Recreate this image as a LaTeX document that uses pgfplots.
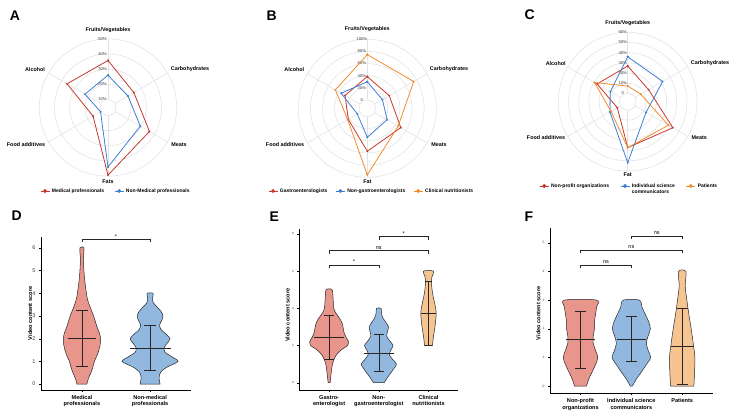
\documentclass[border=0pt]{standalone}
\usepackage{pgfplots}
\usepackage{pgfplotstable}
\pgfplotsset{compat=1.18}
\usepackage{fontspec}
\setmainfont{Liberation Sans}
\definecolor{rred}{HTML}{C8372D}
\definecolor{rblue}{HTML}{3D7FD3}
\definecolor{rorange}{HTML}{F08B2C}
\definecolor{vred}{HTML}{E8958C}
\definecolor{vblue}{HTML}{92B8E0}
\definecolor{vorange}{HTML}{F6C491}
\definecolor{gridc}{HTML}{E3E3E3}
\newcommand\catf{\fontsize{5.4}{6}\selectfont\bfseries}
\newcommand\legf{\fontsize{5}{6}\selectfont\bfseries}
\newcommand\ringf{\fontsize{4.2}{5}\selectfont}
\newcommand\letf{\fontsize{14}{16}\selectfont\bfseries}
\newcommand\xlf{\fontsize{5.6}{6.2}\selectfont\bfseries}
\newcommand\sigf{\fontsize{5.5}{6}\selectfont}

% ---------------- radar data ----------------
\pgfplotstableread{
a med non
90 35.7 26.0
30 24.4 19.9
-30 36.3 29.3
-90 49.3 44.0
210 16.1 10.4
150 35.9 22.3
90 35.7 26.0
}\radA
\pgfplotstableread{
a ga non cl
90 38.5 30 74.7
30 28 15 74.5
-30 50 24 45
-90 57 34 96
210 22.5 5.2 23.6
150 28.6 36 47
90 38.5 30 74.7
}\radB
\pgfplotstableread{
a np isc pat
90 26.9 36 7.2
30 15.5 31.5 6.6
-30 43 12.7 38
-90 37 51.8 37
210 3.6 12 10.8
150 26.6 11.5 29.5
90 26.9 36 7.2
}\radC

% ---------------- violin outlines (y, half-width) ----------------
\pgfplotstableread{
y w
0 0.073
0.25 0.095
0.5 0.132
0.75 0.161
1 0.183
1.25 0.220
1.5 0.249
1.75 0.268
2 0.274
2.25 0.257
2.5 0.224
2.75 0.198
3 0.172
3.25 0.139
3.5 0.107
3.75 0.081
4 0.066
4.5 0.044
5 0.029
5.5 0.022
6 0.029
6 -0.029
5.5 -0.022
5 -0.029
4.5 -0.044
4 -0.066
3.75 -0.081
3.5 -0.107
3.25 -0.139
3 -0.172
2.75 -0.198
2.5 -0.224
2.25 -0.257
2 -0.274
1.75 -0.268
1.5 -0.249
1.25 -0.220
1 -0.183
0.75 -0.161
0.5 -0.132
0.25 -0.095
0 -0.073
}\vDa
\pgfplotstableread{
y w
0 0.147
0.3 0.132
0.55 0.161
0.75 0.25
1 0.41
1.2 0.32
1.4 0.22
1.6 0.205
1.8 0.25
2 0.293
2.2 0.235
2.4 0.161
2.6 0.139
2.8 0.169
3 0.19
3.2 0.161
3.4 0.103
3.6 0.044
3.8 0.037
4 0.044
4 -0.044
3.8 -0.037
3.6 -0.044
3.4 -0.103
3.2 -0.161
3 -0.19
2.8 -0.169
2.6 -0.139
2.4 -0.161
2.2 -0.235
2 -0.293
1.8 -0.25
1.6 -0.205
1.4 -0.22
1.2 -0.32
1 -0.41
0.75 -0.25
0.55 -0.161
0.3 -0.132
0 -0.147
}\vDb
\pgfplotstableread{
y w
0 0.02
0.5 0.04
1 0.067
1.25 0.1
1.5 0.147
1.75 0.235
2 0.37
2.2 0.39
2.4 0.35
2.7 0.3
3 0.28
3.25 0.255
3.5 0.2
3.75 0.134
4 0.094
4.5 0.08
5 0.06
5 -0.06
4.5 -0.08
4 -0.094
3.75 -0.134
3.5 -0.2
3.25 -0.255
3 -0.28
2.7 -0.3
2.4 -0.35
2.2 -0.39
2 -0.37
1.75 -0.235
1.5 -0.147
1.25 -0.1
1 -0.067
0.5 -0.04
0 -0.02
}\vEa
\pgfplotstableread{
y w
0 0.107
0.25 0.167
0.5 0.235
0.75 0.30
1 0.356
1.25 0.28
1.5 0.215
1.75 0.24
2 0.288
2.25 0.22
2.5 0.16
2.75 0.175
3 0.195
3.25 0.14
3.5 0.08
3.75 0.054
4 0.046
4 -0.046
3.75 -0.054
3.5 -0.08
3.25 -0.14
3 -0.195
2.75 -0.175
2.5 -0.16
2.25 -0.22
2 -0.288
1.75 -0.24
1.5 -0.215
1.25 -0.28
1 -0.356
0.75 -0.30
0.5 -0.235
0.25 -0.167
0 -0.107
}\vEb
\pgfplotstableread{
y w
2 0.08
2.5 0.1
3 0.13
3.5 0.15
3.8 0.155
4.2 0.13
4.6 0.097
5 0.072
5.4 0.06
5.7 0.07
6 0.1
6 -0.1
5.7 -0.07
5.4 -0.06
5 -0.072
4.6 -0.097
4.2 -0.13
3.8 -0.155
3.5 -0.15
3 -0.13
2.5 -0.1
2 -0.08
}\vEc
\pgfplotstableread{
y w
0 0.118
0.25 0.163
0.5 0.23
0.75 0.295
1 0.34
1.25 0.295
1.5 0.25
1.75 0.25
2 0.275
2.25 0.275
2.5 0.295
2.75 0.315
3 0.315
3 -0.315
2.75 -0.315
2.5 -0.295
2.25 -0.275
2 -0.275
1.75 -0.25
1.5 -0.25
1.25 -0.295
1 -0.34
0.75 -0.295
0.5 -0.23
0.25 -0.163
0 -0.118
}\vFa
\pgfplotstableread{
y w
0 0.02
0.25 0.1
0.5 0.2
0.75 0.295
1 0.38
1.25 0.33
1.5 0.295
1.75 0.33
2 0.374
2.25 0.34
2.5 0.275
2.75 0.21
3 0.157
3 -0.157
2.75 -0.21
2.5 -0.275
2.25 -0.34
2 -0.374
1.75 -0.33
1.5 -0.295
1.25 -0.33
1 -0.38
0.75 -0.295
0.5 -0.2
0.25 -0.1
0 -0.02
}\vFb
\pgfplotstableread{
y w
0 0.23
0.5 0.243
1 0.25
1.5 0.216
2 0.177
2.5 0.131
3 0.092
3.5 0.059
4 0.072
4 -0.072
3.5 -0.059
3 -0.092
2.5 -0.131
2 -0.177
1.5 -0.216
1 -0.25
0.5 -0.243
0 -0.23
}\vFc

\tikzset{brk/.style={black!85, line width=0.5pt}}
\pgfplotsset{
 radar/.style={scale only axis, hide axis, clip=false, anchor=center,
   xmin=-105,xmax=105,ymin=-95,ymax=95,width=210pt,height=190pt,
   legend image code/.code={\draw[##1,line width=0.8pt] (0pt,0pt) -- (9pt,0pt); \fill[##1] (4.5pt,0pt) circle[radius=1.5pt];},
   legend style={draw=none, fill=none, font=\legf, legend columns=-1, inner sep=0pt},
 },
 rline/.style={line width=0.8pt, mark=*, mark size=0.5pt},
 violin/.style={scale only axis, clip=false, anchor=south west,
   axis x line*=bottom, axis y line*=left, axis line style={-, line width=0.5pt, black},
   xmin=0.4, tick align=outside, major tick length=2pt, tick style={black, line width=0.4pt},
   xticklabel style={font=\xlf, align=center, text=black},
   yticklabel style={text=black!75},
   /pgf/number format/assume math mode=true,
   ylabel={Video content score},
 },
 vshape/.style={draw=black!85, line width=0.5pt, smooth, tension=0.5},
 ebar/.style={black!85, line width=0.6pt},
}

\begin{document}
\begin{tikzpicture}
\useasboundingbox (0pt,0pt) rectangle (733pt,411pt);
\node[font=\letf] at (15pt,395.7pt) {A};
\node[font=\letf] at (271.7pt,395.7pt) {B};
\node[font=\letf] at (529.7pt,396pt) {C};
\node[font=\letf] at (16.7pt,195pt) {D};
\node[font=\letf] at (274.2pt,194.3pt) {E};
\node[font=\letf] at (529pt,194.3pt) {F};

% ================= A =================
\begin{axis}[radar, at={(108pt,303.5pt)},
  legend style={at={(0.176,0.0605)}, anchor=west, /tikz/every even column/.append style={column sep=8pt}}]
\pgfplotsinvokeforeach{8,23.17,38.34,53.51,68.68}{\draw[gridc, line width=0.6pt] (axis cs:0,0) circle[radius=#1pt];}
\pgfplotsinvokeforeach{90,30,-30,-90,210,150}{\draw[gridc, line width=0.6pt] (axis cs:0,0) ++(#1:8pt) -- ++(#1:60.68pt);}
\node[font=\ringf, text=black!75] at (axis cs:-5.5,8) {10\%};
\node[font=\ringf, text=black!75] at (axis cs:-5.5,23.17) {20\%};
\node[font=\ringf, text=black!75] at (axis cs:-5.5,38.34) {30\%};
\node[font=\ringf, text=black!75] at (axis cs:-5.5,53.51) {40\%};
\node[font=\ringf, text=black!75] at (axis cs:-5.5,68.68) {50\%};
\node[font=\catf] at (axis cs:0,77.5) {Fruits/Vegetables};
\node[font=\catf] at (axis cs:82,38) {Carbohydrates};
\node[font=\catf] at (axis cs:71,-36.8) {Meats};
\node[font=\catf] at (axis cs:0,-74.5) {Fats};
\node[font=\catf] at (axis cs:-82,-36.8) {Food additives};
\node[font=\catf] at (axis cs:-73,37.5) {Alcohol};
\addplot[rred, rline] table[x expr={(8+1.517*(\thisrow{med}-10))*cos(\thisrow{a})}, y expr={(8+1.517*(\thisrow{med}-10))*sin(\thisrow{a})}] {\radA};
\addlegendentry{Medical professionals}
\addplot[rblue, rline] table[x expr={(8+1.517*(\thisrow{non}-10))*cos(\thisrow{a})}, y expr={(8+1.517*(\thisrow{non}-10))*sin(\thisrow{a})}] {\radA};
\addlegendentry{Non-Medical professionals}
\end{axis}

% ================= B =================
\begin{axis}[radar, at={(367.3pt,302.7pt)},
  legend style={at={(0.027,0.0647)}, anchor=west, /tikz/every even column/.append style={column sep=6pt}}]
\pgfplotsinvokeforeach{8.33,20.47,32.61,44.75,56.89,69.03}{\draw[gridc, line width=0.6pt] (axis cs:0,0) circle[radius=#1pt];}
\pgfplotsinvokeforeach{90,30,-30,-90,210,150}{\draw[gridc, line width=0.6pt] (axis cs:0,0) ++(#1:8.33pt) -- ++(#1:60.7pt);}
\node[font=\ringf, text=black!75] at (axis cs:-5.5,8.33) {0};
\node[font=\ringf, text=black!75] at (axis cs:-5.5,20.47) {20\%};
\node[font=\ringf, text=black!75] at (axis cs:-5.5,32.61) {40\%};
\node[font=\ringf, text=black!75] at (axis cs:-5.5,44.75) {60\%};
\node[font=\ringf, text=black!75] at (axis cs:-5.5,56.89) {80\%};
\node[font=\ringf, text=black!75] at (axis cs:-5.5,69.03) {100\%};
\node[font=\catf] at (axis cs:0,79) {Fruits/Vegetables};
\node[font=\catf] at (axis cs:81.7,39) {Carbohydrates};
\node[font=\catf] at (axis cs:71.7,-36) {Meats};
\node[font=\catf] at (axis cs:0,-73.4) {Fat};
\node[font=\catf] at (axis cs:-82.3,-36) {Food additives};
\node[font=\catf] at (axis cs:-73,38.3) {Alcohol};
\addplot[rred, rline] table[x expr={(8.33+0.607*\thisrow{ga})*cos(\thisrow{a})}, y expr={(8.33+0.607*\thisrow{ga})*sin(\thisrow{a})}] {\radB};
\addlegendentry{Gastroenterologists}
\addplot[rblue, rline] table[x expr={(8.33+0.607*\thisrow{non})*cos(\thisrow{a})}, y expr={(8.33+0.607*\thisrow{non})*sin(\thisrow{a})}] {\radB};
\addlegendentry{Non-gastroenterologists}
\addplot[rorange, rline] table[x expr={(8.33+0.607*\thisrow{cl})*cos(\thisrow{a})}, y expr={(8.33+0.607*\thisrow{cl})*sin(\thisrow{a})}] {\radB};
\addlegendentry{Clinical nutritionists}
\end{axis}

% ================= C =================
\begin{axis}[radar, at={(627.7pt,309.3pt)},
  legend style={at={(0.078,0.0563)}, anchor=west, /tikz/every even column/.append style={column sep=9pt}}]
\pgfplotsinvokeforeach{8.33,18.5,28.67,38.84,49.01,59.18,69.35}{\draw[gridc, line width=0.6pt] (axis cs:0,0) circle[radius=#1pt];}
\pgfplotsinvokeforeach{90,30,-30,-90,210,150}{\draw[gridc, line width=0.6pt] (axis cs:0,0) ++(#1:8.33pt) -- ++(#1:61.02pt);}
\node[font=\ringf, text=black!75] at (axis cs:-5,8.33) {0};
\node[font=\ringf, text=black!75] at (axis cs:-5,18.5) {10\%};
\node[font=\ringf, text=black!75] at (axis cs:-5,28.67) {20\%};
\node[font=\ringf, text=black!75] at (axis cs:-5,38.84) {30\%};
\node[font=\ringf, text=black!75] at (axis cs:-5,49.01) {40\%};
\node[font=\ringf, text=black!75] at (axis cs:-5,59.18) {50\%};
\node[font=\ringf, text=black!75] at (axis cs:-5,69.35) {60\%};
\node[font=\catf] at (axis cs:0,79) {Fruits/Vegetables};
\node[font=\catf] at (axis cs:82.3,39) {Carbohydrates};
\node[font=\catf] at (axis cs:71.6,-35.6) {Meats};
\node[font=\catf] at (axis cs:0,-72.6) {Fat};
\node[font=\catf] at (axis cs:-81.7,-35.6) {Food additives};
\node[font=\catf] at (axis cs:-72,38.4) {Alcohol};
\addplot[rred, rline] table[x expr={(8.33+1.017*\thisrow{np})*cos(\thisrow{a})}, y expr={(8.33+1.017*\thisrow{np})*sin(\thisrow{a})}] {\radC};
\addlegendentry{Non-profit organizations}
\addplot[rblue, rline] table[x expr={(8.33+1.017*\thisrow{isc})*cos(\thisrow{a})}, y expr={(8.33+1.017*\thisrow{isc})*sin(\thisrow{a})}] {\radC};
\addlegendentry{\begin{tabular}[t]{@{}l@{}}Individual science\\communicators\end{tabular}}
\addplot[rorange, rline] table[x expr={(8.33+1.017*\thisrow{pat})*cos(\thisrow{a})}, y expr={(8.33+1.017*\thisrow{pat})*sin(\thisrow{a})}] {\radC};
\addlegendentry{Patients}
\end{axis}

% ================= D =================
\begin{axis}[violin, at={(41pt,21pt)}, width=150pt, height=153.2pt, xmax=2.6, ymin=-0.26, ymax=6.49,
  xtick={1,2}, xticklabels={{Medical\\professionals},{Non-medical\\professionals}},
  ytick={0,1,2,3,4,5,6}, yticklabel style={font=\fontsize{5.5}{6}\selectfont},
  every axis y label/.style={at={(axis description cs:-0.073,0.5)}, rotate=90, anchor=center, font=\xlf}]
\addplot[vshape, fill=vred] table[x expr=1+\thisrow{w}, y=y] {\vDa} -- cycle;
\addplot[vshape, fill=vblue] table[x expr=2+\thisrow{w}, y=y] {\vDb} -- cycle;
\addplot[ebar] coordinates {(1,0.79) (1,3.25)};
\addplot[ebar] coordinates {(0.917,0.79) (1.083,0.79)};
\addplot[ebar] coordinates {(0.917,3.25) (1.083,3.25)};
\addplot[ebar] coordinates {(0.79,2.02) (1.21,2.02)};
\addplot[ebar] coordinates {(2,0.59) (2,2.57)};
\addplot[ebar] coordinates {(1.917,0.59) (2.083,0.59)};
\addplot[ebar] coordinates {(1.917,2.57) (2.083,2.57)};
\addplot[ebar] coordinates {(1.7,1.58) (2.3,1.58)};
\draw[brk] (axis cs:1,6.27) -- (axis cs:1,6.37) -- (axis cs:2,6.37) -- (axis cs:2,6.27);
\node[font=\sigf, anchor=south, inner sep=1pt] at (axis cs:1.5,6.37) {*};
\end{axis}

% ================= E =================
\begin{axis}[violin, at={(299.3pt,21pt)}, width=159pt, height=160.9pt, xmax=3.6, ymin=-0.39, ymax=8.26,
  xtick={1,2,3}, xticklabels={{Gastro-\\enterologist},{Non-\\gastroenterologist},{Clinical\\nutritionists}},
  ytick={0,2,4,6,8}, yticklabel style={font=\fontsize{3}{3.5}\selectfont},
  every axis y label/.style={at={(axis description cs:-0.073,0.466)}, rotate=90, anchor=center, font=\xlf}]
\addplot[vshape, fill=vred] table[x expr=1+\thisrow{w}, y=y] {\vEa} -- cycle;
\addplot[vshape, fill=vblue] table[x expr=2+\thisrow{w}, y=y] {\vEb} -- cycle;
\addplot[vshape, fill=vorange] table[x expr=3+\thisrow{w}, y=y] {\vEc} -- cycle;
\addplot[ebar] coordinates {(1,1.25) (1,3.62)};
\addplot[ebar] coordinates {(0.9,1.25) (1.1,1.25)};
\addplot[ebar] coordinates {(0.9,3.62) (1.1,3.62)};
\addplot[ebar] coordinates {(0.7,2.43) (1.3,2.43)};
\addplot[ebar] coordinates {(2,0.6) (2,2.6)};
\addplot[ebar] coordinates {(1.9,0.6) (2.1,0.6)};
\addplot[ebar] coordinates {(1.9,2.6) (2.1,2.6)};
\addplot[ebar] coordinates {(1.7,1.6) (2.3,1.6)};
\addplot[ebar] coordinates {(3,2.03) (3,5.43)};
\addplot[ebar] coordinates {(2.92,2.03) (3.08,2.03)};
\addplot[ebar] coordinates {(2.92,5.43) (3.08,5.43)};
\addplot[ebar] coordinates {(2.85,3.75) (3.15,3.75)};
\draw[brk] (axis cs:1,6.17) -- (axis cs:1,6.33) -- (axis cs:2,6.33) -- (axis cs:2,6.17);
\node[font=\sigf, anchor=south, inner sep=1pt] at (axis cs:1.5,6.33) {*};
\draw[brk] (axis cs:1,6.94) -- (axis cs:1,7.1) -- (axis cs:3,7.1) -- (axis cs:3,6.94);
\node[font=\sigf, anchor=south, inner sep=1.2pt] at (axis cs:2,7.1) {ns};
\draw[brk] (axis cs:2,7.69) -- (axis cs:2,7.85) -- (axis cs:3,7.85) -- (axis cs:3,7.69);
\node[font=\sigf, anchor=south, inner sep=1pt] at (axis cs:2.5,7.85) {*};
\end{axis}

% ================= F =================
\begin{axis}[violin, at={(550pt,17.7pt)}, width=162.7pt, height=164.9pt, xmax=3.6, ymin=-0.25, ymax=5.5,
  xtick={1,2,3}, xticklabels={{Non-profit\\organizations},{Individual science\\communicators},{Patients}},
  ytick={0,1,2,3,4,5}, yticklabel style={font=\fontsize{3.3}{3.8}\selectfont},
  every axis y label/.style={at={(axis description cs:-0.072,0.485)}, rotate=90, anchor=center, font=\xlf}]
\addplot[vshape, fill=vred] table[x expr=1+\thisrow{w}, y=y] {\vFa} -- cycle;
\addplot[vshape, fill=vblue] table[x expr=2+\thisrow{w}, y=y] {\vFb} -- cycle;
\addplot[vshape, fill=vorange] table[x expr=3+\thisrow{w}, y=y] {\vFc} -- cycle;
\addplot[ebar] coordinates {(1,0.63) (1,2.6)};
\addplot[ebar] coordinates {(0.89,0.63) (1.11,0.63)};
\addplot[ebar] coordinates {(0.89,2.6) (1.11,2.6)};
\addplot[ebar] coordinates {(0.72,1.62) (1.28,1.62)};
\addplot[ebar] coordinates {(2,0.85) (2,2.42)};
\addplot[ebar] coordinates {(1.89,0.85) (2.11,0.85)};
\addplot[ebar] coordinates {(1.89,2.42) (2.11,2.42)};
\addplot[ebar] coordinates {(1.71,1.63) (2.29,1.63)};
\addplot[ebar] coordinates {(3,0.05) (3,2.7)};
\addplot[ebar] coordinates {(2.89,0.05) (3.11,0.05)};
\addplot[ebar] coordinates {(2.89,2.7) (3.11,2.7)};
\addplot[ebar] coordinates {(2.77,1.38) (3.23,1.38)};
\draw[brk] (axis cs:1,4.12) -- (axis cs:1,4.22) -- (axis cs:2,4.22) -- (axis cs:2,4.12);
\node[font=\sigf, anchor=south, inner sep=1.2pt] at (axis cs:1.5,4.22) {ns};
\draw[brk] (axis cs:1,4.64) -- (axis cs:1,4.74) -- (axis cs:3,4.74) -- (axis cs:3,4.64);
\node[font=\sigf, anchor=south, inner sep=1.2pt] at (axis cs:2,4.74) {ns};
\draw[brk] (axis cs:2,5.13) -- (axis cs:2,5.23) -- (axis cs:3,5.23) -- (axis cs:3,5.13);
\node[font=\sigf, anchor=south, inner sep=1.2pt] at (axis cs:2.5,5.23) {ns};
\end{axis}
\end{tikzpicture}
\end{document}
